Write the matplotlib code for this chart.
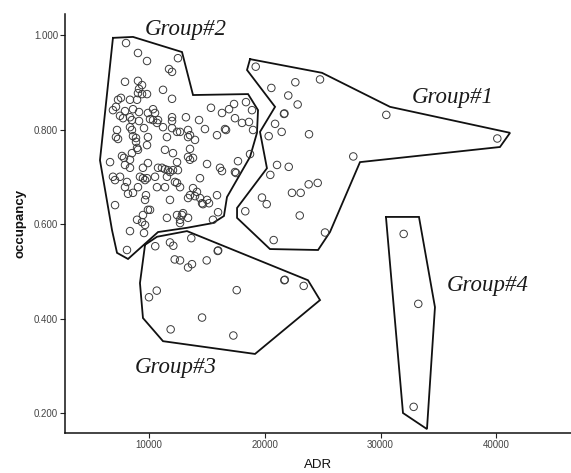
import matplotlib
matplotlib.use("Agg")
import matplotlib.pyplot as plt
import numpy as np

# ---------------- data (ADR, occupancy) ----------------
g2_adr = [8030, 9060, 9840, 12510, 11740, 12000, 7940, 9060, 9410, 9150, 9060, 9410, 11220, 9840,
          7340, 7590, 8370, 8980, 12000, 6900, 7160, 7940, 8630, 9150, 10360, 10530, 9920, 7510,
          7770, 8370, 8540, 9150, 10100, 10360, 10790, 10700, 12000, 12000, 8370, 8540, 9580,
          11220, 12000, 12430, 12690, 7250, 7160, 8630, 8890, 11560, 15360, 16310, 16920, 17350,
          18380, 18900, 13200, 14330, 17430, 18040, 18640, 18990, 13380, 13550, 14840, 15880,
          16570, 16660, 18730, 17690, 17430, 17520, 7340, 8890, 9920, 8980, 9060, 9840, 8540,
          7680, 7850, 11390, 12080, 6650, 8370, 7940, 8370, 9920, 9490, 10790, 11130, 11390,
          11650, 11820, 12080, 12430, 12510, 6900, 7080, 7510, 9230, 9490, 9670, 9840, 8110,
          7940, 9060, 10530, 10700, 11390, 12250, 12430, 12690, 11560, 8200, 8630, 9750, 9670,
          11820, 7080, 9920, 10100, 9490, 8980, 9410, 9670, 11560, 12430, 12860, 8370, 9580,
          12690, 8110, 13380, 13980, 13550, 13380, 13810, 13550, 15020, 16140, 16310, 14410,
          13810, 14150, 13980, 13550, 13380, 14410, 14590, 14670, 15190, 15880, 15020, 15970,
          15530, 12950, 13380, 12690]
g2_occ = [0.983, 0.962, 0.945, 0.951, 0.928, 0.922, 0.901, 0.903, 0.894, 0.886, 0.877, 0.875,
          0.884, 0.875, 0.863, 0.867, 0.863, 0.863, 0.865, 0.841, 0.848, 0.839, 0.843, 0.837,
          0.843, 0.835, 0.835, 0.829, 0.824, 0.826, 0.820, 0.818, 0.822, 0.820, 0.820, 0.814,
          0.826, 0.818, 0.805, 0.799, 0.803, 0.805, 0.803, 0.795, 0.795, 0.799, 0.784, 0.786,
          0.782, 0.784, 0.846, 0.835, 0.843, 0.854, 0.858, 0.841, 0.826, 0.820, 0.824, 0.814,
          0.816, 0.799, 0.799, 0.788, 0.801, 0.788, 0.801, 0.799, 0.748, 0.733, 0.710, 0.708,
          0.780, 0.774, 0.784, 0.761, 0.757, 0.767, 0.750, 0.744, 0.740, 0.757, 0.750, 0.731,
          0.736, 0.725, 0.719, 0.729, 0.719, 0.719, 0.719, 0.716, 0.714, 0.710, 0.714, 0.731,
          0.714, 0.700, 0.693, 0.700, 0.700, 0.697, 0.693, 0.697, 0.689, 0.678, 0.678, 0.700,
          0.678, 0.678, 0.689, 0.687, 0.678, 0.700, 0.664, 0.666, 0.661, 0.651, 0.651, 0.640,
          0.630, 0.630, 0.619, 0.609, 0.604, 0.598, 0.613, 0.619, 0.619, 0.585, 0.581, 0.602,
          0.545, 0.784, 0.778, 0.759, 0.742, 0.740, 0.736, 0.727, 0.719, 0.712, 0.697, 0.676,
          0.668, 0.659, 0.661, 0.655, 0.655, 0.644, 0.642, 0.644, 0.661, 0.651, 0.625, 0.609,
          0.623, 0.613, 0.609]

g1_adr = [19220, 22640, 24770, 20570, 22030, 22840, 21660, 21700, 20890, 21460, 20340, 23820,
          27640, 21060, 22070, 20480, 23790, 24570, 22350, 23100, 19760, 20170, 18320, 23020,
          25200, 20770, 30490, 40070]
g1_occ = [0.933, 0.900, 0.906, 0.888, 0.872, 0.853, 0.833, 0.834, 0.812, 0.795, 0.786, 0.790,
          0.743, 0.725, 0.721, 0.704, 0.684, 0.687, 0.666, 0.666, 0.656, 0.642, 0.627, 0.618,
          0.582, 0.566, 0.831, 0.781]

g3_adr = [10550, 11820, 12110, 13660, 15940, 15980, 12230, 12690, 13720, 13380, 14990, 21690,
          21730, 23360, 10680, 10010, 17580, 14590, 11880, 17290]
g3_occ = [0.553, 0.561, 0.554, 0.570, 0.543, 0.544, 0.525, 0.523, 0.515, 0.508, 0.523, 0.481,
          0.482, 0.469, 0.459, 0.445, 0.460, 0.402, 0.377, 0.364]

g4_adr = [31990, 33250, 32850]
g4_occ = [0.579, 0.431, 0.213]

# hand-drawn group outlines (ADR, occupancy)
hull2_adr = [6900, 8630, 12860, 13810, 18560, 19420, 19330, 18730, 16740, 16480, 15530, 13290,
             10790, 9840, 8200, 7250, 6820, 5780]
hull2_occ = [0.994, 0.996, 0.964, 0.873, 0.875, 0.841, 0.793, 0.742, 0.657, 0.617, 0.602, 0.592,
             0.583, 0.562, 0.526, 0.539, 0.587, 0.735]
hull1_adr = [18730, 24940, 30810, 41170, 40300, 28220, 25630, 24600, 20450, 17610, 17610, 20190,
             19590, 20890, 18470]
hull1_occ = [0.949, 0.920, 0.848, 0.793, 0.763, 0.731, 0.583, 0.545, 0.547, 0.613, 0.634, 0.718,
             0.795, 0.848, 0.926]
hull3_adr = [9670, 10700, 13290, 23730, 24770, 19160, 11220, 9490, 9230]
hull3_occ = [0.556, 0.573, 0.585, 0.481, 0.439, 0.325, 0.352, 0.401, 0.475]
hull4_adr = [30460, 33310, 34690, 34000, 31930]
hull4_occ = [0.615, 0.615, 0.424, 0.166, 0.200]

group_names = ["Group#1", "Group#2", "Group#3", "Group#4"]
label_adr = [36250, 13200, 12340, 39220]
label_occ = [0.867, 1.011, 0.297, 0.469]

x_ticks = [10000, 20000, 30000, 40000]
y_ticks = [0.200, 0.400, 0.600, 0.800, 1.000]

# ---------------- figure ----------------
fig = plt.figure(figsize=(5.71, 4.73), dpi=100)
ax = fig.add_axes([0.1138, 0.0846, 0.8862, 0.8858])

for xs, ys in [(g2_adr, g2_occ), (g1_adr, g1_occ), (g3_adr, g3_occ), (g4_adr, g4_occ)]:
    ax.scatter(xs, ys, s=29, facecolors="none", edgecolors="#3a3a3a", linewidths=0.7, zorder=3)

for hx, hy in [(hull1_adr, hull1_occ), (hull2_adr, hull2_occ), (hull3_adr, hull3_occ),
               (hull4_adr, hull4_occ)]:
    ax.plot(list(hx) + [hx[0]], list(hy) + [hy[0]], color="#111111", lw=1.3, zorder=2,
            solid_joinstyle="miter")

for name, lx, ly in zip(group_names, label_adr, label_occ):
    ax.text(lx, ly, name, family="Liberation Serif", style="italic", fontsize=16.5,
            ha="center", va="center", color="#1a1a1a")

ax.set_xlim(2760, 46430)
ax.set_ylim(0.1577, 1.0445)
ax.set_xticks(x_ticks)
ax.set_xticklabels([f"{v}" for v in x_ticks])
ax.set_yticks(y_ticks)
ax.set_yticklabels([f"{v:.3f}" for v in y_ticks])

for s in ["top", "right"]:
    ax.spines[s].set_visible(False)
for s in ["left", "bottom"]:
    ax.spines[s].set_linewidth(1.1)
    ax.spines[s].set_color("#111111")

ax.tick_params(axis="both", direction="out", length=3.5, width=0.8, color="#222222",
               labelsize=7, labelcolor="#444444", pad=1.5)
for t in ax.get_xticklabels() + ax.get_yticklabels():
    t.set_family("Liberation Sans")

ax.set_xlabel("ADR", family="Liberation Sans", fontsize=9.5, color="#111111")
ax.xaxis.set_label_coords(0.5, -0.062)
ax.set_ylabel("occupancy", family="Liberation Sans", fontsize=9.5, fontweight="bold",
              color="#111111")
ax.yaxis.set_label_coords(-0.077, 0.5)

fig.savefig("out.png", dpi=100)
